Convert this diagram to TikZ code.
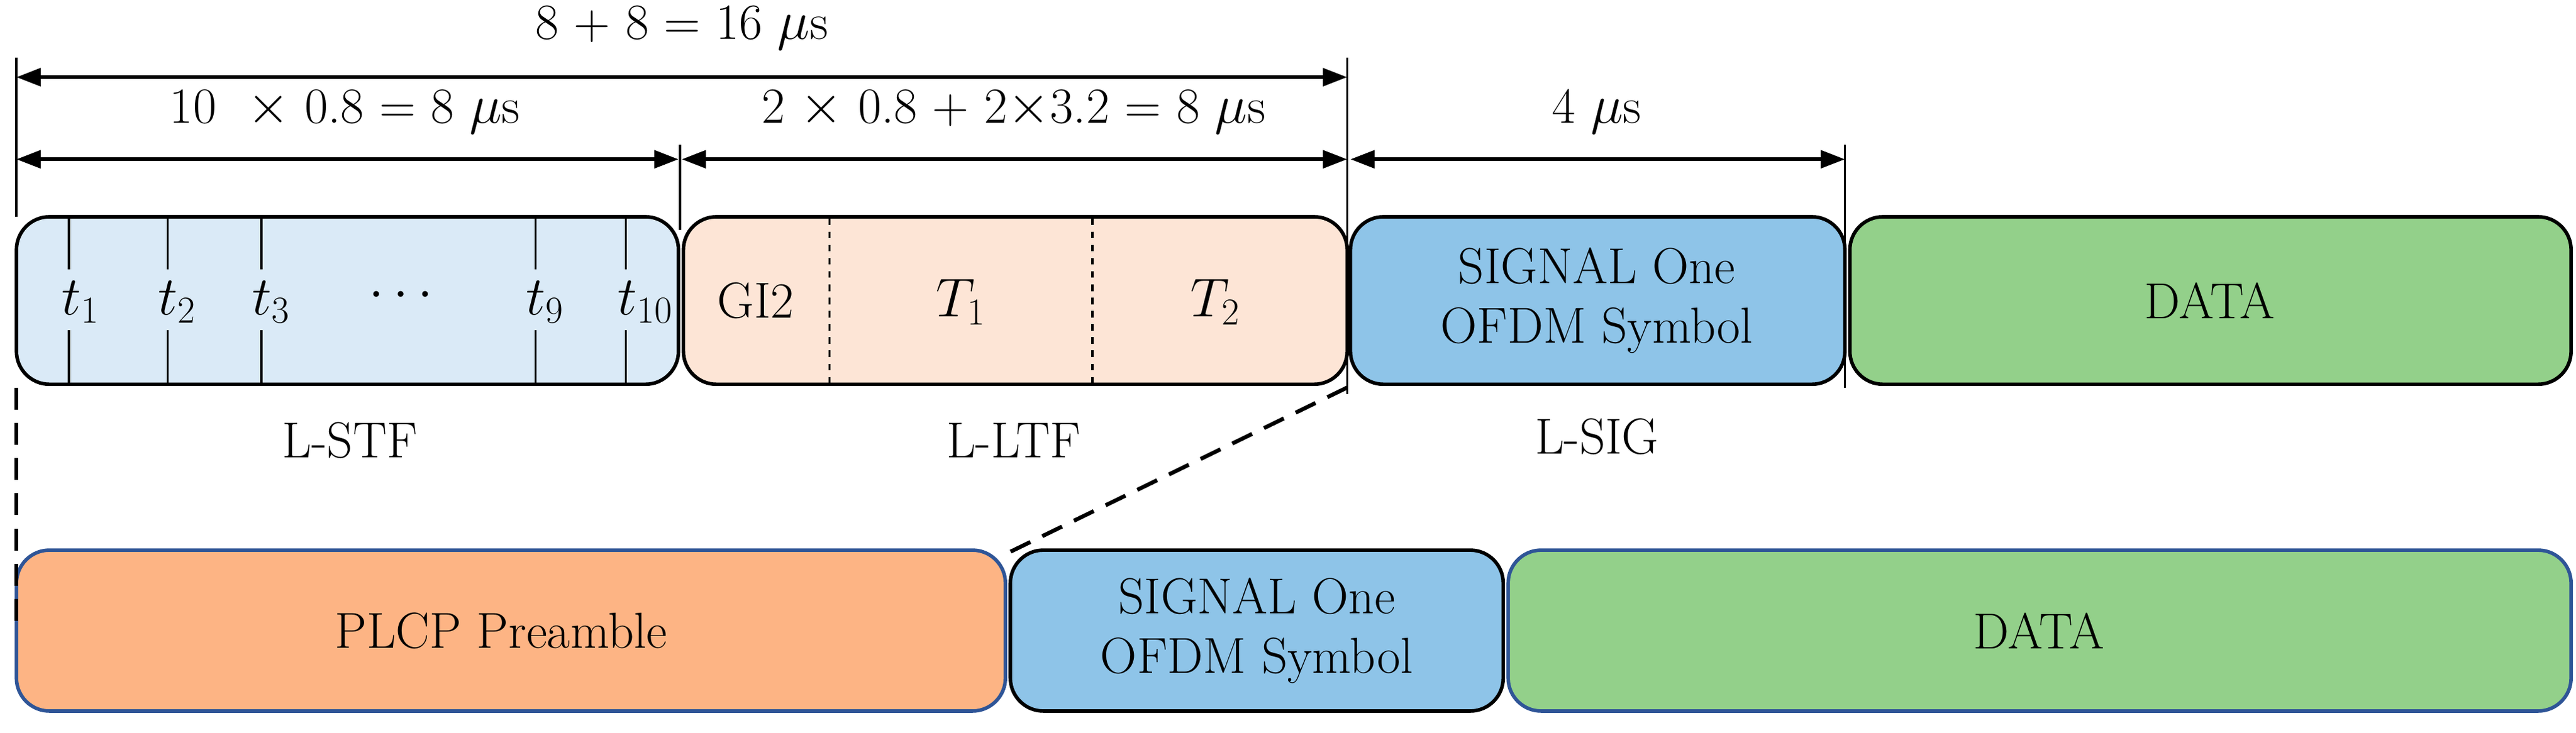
\documentclass[tikz,border=0pt]{standalone}
\usetikzlibrary{arrows.meta}
\definecolor{stf}{HTML}{DAEAF7}
\definecolor{ltf}{HTML}{FDE5D6}
\definecolor{sig}{HTML}{8EC4E8}
\definecolor{dat}{HTML}{93D08A}
\definecolor{plcp}{HTML}{FDB484}
\definecolor{bord}{HTML}{2F5597}
\begin{document}
\begin{tikzpicture}[x=0.02621cm,y=-0.02621cm,font=\fontsize{23}{27}\selectfont,
  box/.style={draw=black,line width=1.6pt,rounded corners=15},
  bbox/.style={draw=bord,line width=1.6pt,rounded corners=15},
  dim/.style={line width=1.6pt,{Triangle[length=11pt,width=8pt]}-{Triangle[length=11pt,width=8pt]}},
  thin/.style={line width=1pt},
  dsh/.style={line width=1.8pt,dash pattern=on 10pt off 6pt},
  lbl/.style={inner sep=0pt}]
\useasboundingbox (0,0) rectangle (1568,446);
% top row
\draw[box,fill=stf] (10,132) rectangle (413,234);
\draw[box,fill=ltf] (416,132) rectangle (820,234);
\draw[box,fill=sig] (822,132) rectangle (1123,234);
\draw[box,fill=dat] (1126,132) rectangle (1565,234);
\foreach \x in {42,102,159,326,381}{
  \draw[thin] (\x,133) -- (\x,164);
  \draw[thin] (\x,201) -- (\x,233);}
\node[lbl] (t1) at (49,184) {$t_1$};
\node[lbl] (t2) at (108,184) {$t_2$};
\node[lbl] (t3) at (165,184) {$t_3$};
\node[lbl] (td) at (244,180) {$\cdots$};
\node[lbl] (t9) at (332,184) {$t_9$};
\node[lbl] (t10) at (393,184) {$t_{10}$};
\draw[thin,dashed] (505,133) -- (505,233);
\draw[thin,dashed] (665,133) -- (665,233);
\node[lbl] (gi) at (460,183) {GI2};
\node[lbl] (T1) at (585,184) {$T_1$};
\node[lbl] (T2) at (740,184) {$T_2$};
\node[lbl,align=center] (s1) at (972,183) {SIGNAL One\\OFDM Symbol};
\node[lbl] (d1) at (1345,183) {DATA};
\node[lbl] (lstf) at (213,268) {L-STF};
\node[lbl] (lltf) at (617,268) {L-LTF};
\node[lbl] (lsig) at (972,266) {L-SIG};
% dimension lines
\draw[thin] (10,35) -- (10,132);
\draw[thin] (820,35) -- (820,240);
\draw[thin] (414,88) -- (414,140);
\draw[thin] (1123,88) -- (1123,236);
\draw[dim] (10,47) -- (820,47);
\draw[dim] (10,97) -- (413,97);
\draw[dim] (415,97) -- (820,97);
\draw[dim] (822,97) -- (1123,97);
\node[lbl] (a1) at (415,17) {8 + 8 = 16 $\mu$s};
\node[lbl] (a2) at (210,68) {10 \ $\times$ 0.8 = 8 $\mu$s};
\node[lbl] (a3) at (617,68) {2 $\times$ 0.8 + 2$\times$3.2 = 8 $\mu$s};
\node[lbl] (a4) at (972,68) {4 $\mu$s};
% bottom row
\draw[bbox,fill=plcp] (10,335) rectangle (612,433);
\draw[bbox,draw=black,fill=sig] (615,335) rectangle (915,433);
\draw[bbox,fill=dat] (918,335) rectangle (1565,433);
\node[lbl] (p) at (305,384) {PLCP Preamble};
\node[lbl,align=center] (s2) at (765,384) {SIGNAL One\\OFDM Symbol};
\node[lbl] (d2) at (1241,384) {DATA};
\draw[dsh] (10,236) -- (10,380);
\draw[dsh] (820,236) -- (615,336);
\end{tikzpicture}
\end{document}
